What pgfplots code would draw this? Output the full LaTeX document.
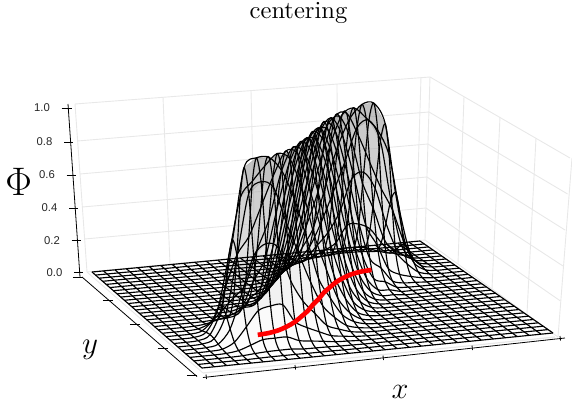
\documentclass[border=0pt]{standalone}
\usepackage{fontspec}
\usepackage{pgfplots}
\usepackage{pgfplotstable}
\pgfplotsset{compat=1.18}
\newfontfamily\tickfont{Liberation Sans}
\definecolor{gridc}{RGB}{232,232,232}
\pgfplotsset{colormap={hgt}{rgb=(1,1,1) rgb=(0.5,0.5,0.5)}}
\newcommand\seg[3]{\addplot3[#1] coordinates {(#2,0) (#3,0)};}
\tikzset{declare function={
  XI(\k)=floor(\k/30)/29;
  YI(\k)=mod(\k,30)/29;
  WW(\x,\y)=1+0.01746*\x+0.0772*\y;
  UF(\x,\y)=(360.66*\x-102.9*\y+202)/WW(\x,\y);
  VF(\x,\y)=(-29.19*\x-75*\y+368)/WW(\x,\y);
  HH(\x,\y)=183*(1-\x)*(1-\y)+178*\x*(1-\y)+166*(1-\x)*\y+162*\x*\y;
  KK(\x,\y)=-4*(1-\x)*(1-\y)+13*\x*(1-\y)-12*(1-\x)*\y+5*\x*\y;
  PU(\x,\y,\z)=UF(\x,\y)+\z*KK(\x,\y);
  PV(\x,\y,\z)=VF(\x,\y)-\z*HH(\x,\y);
}}
\pgfplotstableread[row sep=\\,header=false]{
0\\0\\0\\0\\0\\0\\0\\0\\0\\0\\
0\\0\\0\\0\\0\\0\\0\\0\\0\\0\\
0\\0\\0\\0\\0\\0\\0\\0\\0\\0\\
0\\0\\0\\0\\0\\0\\0\\0\\0\\0\\
0\\0\\0\\0\\0\\0\\0\\0\\0\\0\\
0\\0\\0\\0\\0\\0\\0\\0\\0\\0\\
0\\0\\0\\0\\.001\\.002\\.003\\.003\\.002\\.001\\
0\\0\\0\\0\\0\\0\\0\\0\\0\\0\\
0\\0\\0\\0\\0\\0\\0\\0\\0\\0\\
0\\0\\0\\.002\\.006\\.015\\.026\\.03\\.024\\.013\\
.005\\.001\\0\\0\\0\\0\\0\\0\\0\\0\\
0\\0\\0\\0\\0\\0\\0\\0\\0\\0\\
0\\0\\.002\\.011\\.038\\.093\\.155\\.18\\.144\\.08\\
.031\\.008\\.001\\0\\0\\0\\0\\0\\0\\0\\
0\\0\\0\\0\\0\\0\\0\\0\\0\\0\\
0\\.001\\.007\\.034\\.117\\.283\\.474\\.549\\.44\\.244\\
.094\\.025\\.004\\.001\\0\\0\\0\\0\\0\\0\\
0\\0\\0\\0\\0\\0\\0\\0\\0\\0\\
0\\.002\\.011\\.058\\.201\\.488\\.818\\.948\\.76\\.422\\
.162\\.043\\.008\\.001\\0\\0\\0\\0\\0\\0\\
0\\0\\0\\0\\0\\0\\0\\0\\0\\0\\
0\\.002\\.012\\.06\\.22\\.55\\.88\\.998\\.85\\.52\\
.23\\.08\\.025\\.007\\.001\\0\\0\\0\\0\\0\\
0\\0\\0\\0\\0\\0\\0\\0\\0\\0\\
0\\.002\\.012\\.06\\.22\\.52\\.84\\.995\\.93\\.68\\
.42\\.224\\.107\\.045\\.017\\.007\\.001\\0\\0\\0\\
0\\0\\0\\0\\0\\0\\0\\0\\0\\0\\
0\\.001\\.006\\.033\\.119\\.33\\.64\\.914\\.995\\.847\\.587\\.346\\.17\\.07\\.024\\.008\\.002\\0\\0\\0\\0\\0\\0\\0\\0\\0\\0\\0\\0\\0\\
0\\.001\\.005\\.024\\.08\\.21\\.46\\.75\\.96\\.985\\.847\\.62\\.39\\.21\\.098\\.04\\.013\\.004\\.001\\0\\0\\0\\0\\0\\0\\0\\0\\0\\0\\0\\
0\\.001\\.004\\.016\\.05\\.134\\.29\\.525\\.78\\.967\\.989\\.875\\.68\\.46\\.274\\.143\\.065\\.026\\.009\\.003\\.001\\0\\0\\0\\0\\0\\0\\0\\0\\0\\
0\\0\\.002\\.007\\.022\\.06\\.152\\.288\\.514\\.75\\.936\\1\\.93\\.767\\.56\\.365\\.212\\.105\\.049\\.02\\.007\\.002\\0\\0\\0\\0\\0\\0\\0\\0\\
0\\0\\.001\\.004\\.012\\.033\\.08\\.17\\.316\\.507\\.725\\.909\\.997\\.965\\.832\\.646\\.444\\.277\\.152\\.076\\.033\\.013\\.005\\.001\\0\\0\\0\\0\\0\\0\\
0\\0\\0\\.001\\.004\\.012\\.028\\.07\\.143\\.26\\.434\\.635\\.832\\.96\\.998\\.923\\.764\\.565\\.374\\.222\\.117\\.056\\.024\\.009\\.003\\.001\\0\\0\\0\\0\\
0\\0\\0\\0\\.001\\.003\\.009\\.024\\.056\\.117\\.222\\.374\\.565\\.764\\.923\\.998\\.96\\.832\\.635\\.434\\.26\\.143\\.07\\.028\\.012\\.004\\.001\\0\\0\\0\\
0\\0\\0\\0\\0\\0\\.001\\.005\\.013\\.033\\.076\\.152\\.277\\.444\\.646\\.832\\.965\\.997\\.909\\.725\\.507\\.316\\.17\\.08\\.033\\.012\\.004\\.001\\0\\0\\
0\\0\\0\\0\\0\\0\\0\\0\\.002\\.007\\.02\\.049\\.105\\.212\\.365\\.56\\.767\\.93\\1\\.936\\.75\\.514\\.288\\.152\\.06\\.022\\.007\\.002\\0\\0\\
0\\0\\0\\0\\0\\0\\0\\0\\0\\.001\\.003\\.009\\.026\\.065\\.143\\.274\\.46\\.68\\.875\\.989\\.967\\.78\\.525\\.29\\.134\\.05\\.016\\.004\\.001\\0\\
0\\0\\0\\0\\0\\0\\0\\0\\0\\0\\0\\.001\\.004\\.013\\.04\\.098\\.21\\.39\\.62\\.847\\.985\\.96\\.75\\.46\\.21\\.08\\.024\\.005\\.001\\0\\
0\\0\\0\\0\\0\\0\\0\\0\\0\\0\\0\\0\\0\\.002\\.008\\.024\\.07\\.17\\.346\\.587\\.847\\.995\\.914\\.64\\.33\\.119\\.033\\.006\\.001\\0\\
0\\0\\0\\0\\0\\0\\0\\0\\0\\0\\
0\\0\\0\\.001\\.007\\.017\\.045\\.107\\.224\\.42\\
.68\\.93\\.995\\.84\\.52\\.22\\.06\\.012\\.002\\0\\
0\\0\\0\\0\\0\\0\\0\\0\\0\\0\\
0\\0\\0\\0\\0\\.001\\.007\\.025\\.08\\.23\\
.52\\.85\\.998\\.88\\.55\\.22\\.06\\.012\\.002\\0\\
0\\0\\0\\0\\0\\0\\0\\0\\0\\0\\
0\\0\\0\\0\\0\\0\\.001\\.007\\.039\\.148\\
.386\\.696\\.868\\.749\\.447\\.184\\.053\\.01\\.002\\0\\
0\\0\\0\\0\\0\\0\\0\\0\\0\\0\\
0\\0\\0\\0\\0\\0\\0\\.004\\.02\\.077\\
.2\\.36\\.449\\.387\\.231\\.095\\.027\\.005\\.001\\0\\
0\\0\\0\\0\\0\\0\\0\\0\\0\\0\\
0\\0\\0\\0\\0\\0\\0\\0\\.006\\.022\\
.058\\.104\\.13\\.112\\.067\\.028\\.008\\.002\\0\\0\\
0\\0\\0\\0\\0\\0\\0\\0\\0\\0\\
0\\0\\0\\0\\0\\0\\0\\0\\0\\.004\\
.01\\.018\\.022\\.019\\.011\\.005\\.001\\0\\0\\0\\
0\\0\\0\\0\\0\\0\\0\\0\\0\\0\\
0\\0\\0\\0\\0\\0\\0\\0\\0\\0\\
0\\.002\\.002\\.002\\.001\\0\\0\\0\\0\\0\\
0\\0\\0\\0\\0\\0\\0\\0\\0\\0\\
0\\0\\0\\0\\0\\0\\0\\0\\0\\0\\
0\\0\\0\\0\\0\\0\\0\\0\\0\\0\\
0\\0\\0\\0\\0\\0\\0\\0\\0\\0\\
0\\0\\0\\0\\0\\0\\0\\0\\0\\0\\
0\\0\\0\\0\\0\\0\\0\\0\\0\\0\\
}\PhiData
\pgfplotstableread[row sep=\\,header=false]{
0 0 0 0 0 0 0 0 0 0 0 0 0 0 0 0 0 0 0 0 0 0 0 0 0 0 0 0 0 0\\
0 0 0 0 0 0 0 0 0 0 0 0 0 0 0 0 0 0 0 0 0 0 0 0 0 0 0 0 0 0\\
0 0 0 0 .001 .002 .003 .003 .002 .001 0 0 0 0 0 0 0 0 0 0 0 0 0 0 0 0 0 0 0 0\\
0 0 0 .002 .006 .015 .026 .03 .024 .013 .005 .001 0 0 0 0 0 0 0 0 0 0 0 0 0 0 0 0 0 0\\
0 0 .002 .011 .038 .093 .155 .18 .144 .08 .031 .008 .001 0 0 0 0 0 0 0 0 0 0 0 0 0 0 0 0 0\\
0 .001 .007 .034 .117 .283 .474 .549 .44 .244 .094 .025 .004 .001 0 0 0 0 0 0 0 0 0 0 0 0 0 0 0 0\\
0 .002 .011 .058 .201 .488 .818 .948 .76 .422 .162 .043 .008 .001 0 0 0 0 0 0 0 0 0 0 0 0 0 0 0 0\\
0 .002 .012 .06 .22 .55 .88 .998 .85 .52 .23 .08 .025 .007 .001 0 0 0 0 0 0 0 0 0 0 0 0 0 0 0\\
0 .002 .012 .06 .22 .52 .84 .995 .93 .68 .42 .224 .107 .045 .017 .007 .001 0 0 0 0 0 0 0 0 0 0 0 0 0\\
0 .001 .006 .033 .119 .33 .64 .914 .995 .847 .587 .346 .17 .07 .024 .008 .002 0 0 0 0 0 0 0 0 0 0 0 0 0\\
0 .001 .005 .024 .08 .21 .46 .75 .96 .985 .847 .62 .39 .21 .098 .04 .013 .004 .001 0 0 0 0 0 0 0 0 0 0 0\\
0 .001 .004 .016 .05 .134 .29 .525 .78 .967 .989 .875 .68 .46 .274 .143 .065 .026 .009 .003 .001 0 0 0 0 0 0 0 0 0\\
0 0 .002 .007 .022 .06 .152 .288 .514 .75 .936 1 .93 .767 .56 .365 .212 .105 .049 .02 .007 .002 0 0 0 0 0 0 0 0\\
0 0 .001 .004 .012 .033 .08 .17 .316 .507 .725 .909 .997 .965 .832 .646 .444 .277 .152 .076 .033 .013 .005 .001 0 0 0 0 0 0\\
0 0 0 .001 .004 .012 .028 .07 .143 .26 .434 .635 .832 .96 .998 .923 .764 .565 .374 .222 .117 .056 .024 .009 .003 .001 0 0 0 0\\
0 0 0 0 .001 .003 .009 .024 .056 .117 .222 .374 .565 .764 .923 .998 .96 .832 .635 .434 .26 .143 .07 .028 .012 .004 .001 0 0 0\\
0 0 0 0 0 0 .001 .005 .013 .033 .076 .152 .277 .444 .646 .832 .965 .997 .909 .725 .507 .316 .17 .08 .033 .012 .004 .001 0 0\\
0 0 0 0 0 0 0 0 .002 .007 .02 .049 .105 .212 .365 .56 .767 .93 1 .936 .75 .514 .288 .152 .06 .022 .007 .002 0 0\\
0 0 0 0 0 0 0 0 0 .001 .003 .009 .026 .065 .143 .274 .46 .68 .875 .989 .967 .78 .525 .29 .134 .05 .016 .004 .001 0\\
0 0 0 0 0 0 0 0 0 0 0 .001 .004 .013 .04 .098 .21 .39 .62 .847 .985 .96 .75 .46 .21 .08 .024 .005 .001 0\\
0 0 0 0 0 0 0 0 0 0 0 0 0 .002 .008 .024 .07 .17 .346 .587 .847 .995 .914 .64 .33 .119 .033 .006 .001 0\\
0 0 0 0 0 0 0 0 0 0 0 0 0 .001 .007 .017 .045 .107 .224 .42 .68 .93 .995 .84 .52 .22 .06 .012 .002 0\\
0 0 0 0 0 0 0 0 0 0 0 0 0 0 0 .001 .007 .025 .08 .23 .52 .85 .998 .88 .55 .22 .06 .012 .002 0\\
0 0 0 0 0 0 0 0 0 0 0 0 0 0 0 0 .001 .007 .039 .148 .386 .696 .868 .749 .447 .184 .053 .01 .002 0\\
0 0 0 0 0 0 0 0 0 0 0 0 0 0 0 0 0 .004 .02 .077 .2 .36 .449 .387 .231 .095 .027 .005 .001 0\\
0 0 0 0 0 0 0 0 0 0 0 0 0 0 0 0 0 0 .006 .022 .058 .104 .13 .112 .067 .028 .008 .002 0 0\\
0 0 0 0 0 0 0 0 0 0 0 0 0 0 0 0 0 0 0 .004 .01 .018 .022 .019 .011 .005 .001 0 0 0\\
0 0 0 0 0 0 0 0 0 0 0 0 0 0 0 0 0 0 0 0 0 .002 .002 .002 .001 0 0 0 0 0\\
0 0 0 0 0 0 0 0 0 0 0 0 0 0 0 0 0 0 0 0 0 0 0 0 0 0 0 0 0 0\\
0 0 0 0 0 0 0 0 0 0 0 0 0 0 0 0 0 0 0 0 0 0 0 0 0 0 0 0 0 0\\
}\PhiM
\pgfplotstabletranspose\PhiT{\PhiM}
\pgfplotstableread[row sep=\\]{
x y\\
.241 .245\\.276 .252\\.310 .269\\.345 .297\\.379 .331\\.414 .376\\.448 .421\\.483 .476\\
.517 .524\\.552 .579\\.586 .624\\.621 .669\\.655 .703\\.690 .731\\.724 .748\\.759 .755\\
}\RedPath
% line of constant y index #1 (a column of the matrix)
\newcommand\jline[1]{\addplot3[black, line width=1.15pt, smooth]
 table[x index=0, y index=0, z index=0,
  x expr={PU(\coordindex/29,#1/29,\thisrowno{#1})},
  y expr={PV(\coordindex/29,#1/29,\thisrowno{#1})},
  z expr={\thisrowno{#1}}] {\PhiM};}
% line of constant x index #1 (column #2 of the transposed matrix)
\newcommand\iline[2]{\addplot3[black, line width=1.15pt, smooth]
 table[x index=0, y index=0, z index=0,
  x expr={PU(#1/29,\coordindex/29,\thisrowno{#2})},
  y expr={PV(#1/29,\coordindex/29,\thisrowno{#2})},
  z expr={\thisrowno{#2}}] {\PhiT};}
\begin{document}
\begin{tikzpicture}
\useasboundingbox (0,0) rectangle (572pt,409pt);
\begin{axis}[
 view={0}{90}, width=572pt, height=409pt, scale only axis,
 xmin=0, xmax=572, ymin=0, ymax=409, zmin=-1, zmax=2, y dir=reverse,
 hide axis, clip=true, point meta min=0, point meta max=1,
 every axis plot/.append style={line join=round},
]
% walls
\pgfplotsset{wl/.style={gridc,line width=0.9pt}}
\seg{wl}{87,272}{425,240}
\seg{wl}{84.6,239}{426,208}
\seg{wl}{82.2,207}{427,177}
\seg{wl}{79.8,174}{428,144}
\seg{wl}{77.4,141}{429,112}
\seg{wl}{75,104}{430,77}
\seg{wl}{87,272}{75,104}
\seg{wl}{170,264}{163,97}
\seg{wl}{255,256}{251,90.5}
\seg{wl}{338,248}{337,84}
\seg{wl}{416,241}{421,77}
\seg{wl}{425,240}{430,77}
\seg{wl}{425,240}{558,337}
\seg{wl}{426,208}{560.5,301}
\seg{wl}{427,177}{563,266}
\seg{wl}{428,144}{565,230}
\seg{wl}{429,112}{567.6,194}
\seg{wl}{430,77}{570,158}
\seg{wl}{458,264}{464,97}
\seg{wl}{492,289}{500,117}
\seg{wl}{527,314}{536,138}
\seg{wl}{558,337}{572,158}
\seg{wl}{87,272}{203,373}
\seg{gridc,line width=1.2pt}{203,373}{555,337}
% filled surface
\addplot3[surf, shader=flat, colormap name=hgt, opacity=0.3, mesh/rows=30, mesh/cols=30]
 table[x index=0, y index=0, z index=0,
       x expr={PU(XI(\coordindex),YI(\coordindex),\thisrowno{0})},
       y expr={PV(XI(\coordindex),YI(\coordindex),\thisrowno{0})},
       z expr={\thisrowno{0}}] {\PhiData};
% mesh lines, each line of the grid on its own
\pgfplotsinvokeforeach{0,...,29}{\jline{#1}}
\iline{0}{1}\iline{1}{2}\iline{2}{3}\iline{3}{4}\iline{4}{5}\iline{5}{6}
\iline{6}{7}\iline{7}{8}\iline{8}{9}\iline{9}{10}\iline{10}{11}\iline{11}{12}
\iline{12}{13}\iline{13}{14}\iline{14}{15}\iline{15}{16}\iline{16}{17}\iline{17}{18}
\iline{18}{19}\iline{19}{20}\iline{20}{21}\iline{21}{22}\iline{22}{23}\iline{23}{24}
\iline{24}{25}\iline{25}{26}\iline{26}{27}\iline{27}{28}\iline{28}{29}\iline{29}{30}
% path on the floor
\addplot3[red, line width=4.6pt, smooth]
 table[x index=0, y index=1, z index=1, x expr={UF(\thisrow{x},\thisrow{y})}, y expr={VF(\thisrow{x},\thisrow{y})}, z expr=0] {\RedPath};
% axes
\pgfplotsset{ax/.style={black,line width=0.8pt}}
\seg{ax}{68,104}{80,277}
\seg{ax}{82,277}{197,376.5}
\seg{ax}{203,377.5}{565,338}
\seg{ax}{61.7,108.3}{71.7,108.3}
\seg{ax}{64.3,142}{73.3,142}
\seg{ax}{66.7,175.5}{76,175.5}
\seg{ax}{69.3,208}{78.3,208}
\seg{ax}{71.7,240}{81,240}
\seg{ax}{74,272}{82.7,272}
\seg{ax}{73,277}{83,277}
\seg{ax}{103,300}{113,300}
\seg{ax}{130,324}{140,324}
\seg{ax}{158,348}{168,348}
\seg{ax}{187,375}{197,375}
\seg{ax}{206,374.5}{206.5,379}
\seg{ax}{295,365}{295.5,369.5}
\seg{ax}{383,355.5}{383.5,360}
\seg{ax}{472,345.5}{472.5,350}
\seg{ax}{560,336}{560.5,340.5}
% text
\node[anchor=east,inner sep=0pt,text=black!85] at (axis cs:50,108,0) {\tickfont\fontsize{11.3}{12}\selectfont 1.0};
\node[anchor=east,inner sep=0pt,text=black!85] at (axis cs:52.5,142,0) {\tickfont\fontsize{11.3}{12}\selectfont 0.8};
\node[anchor=east,inner sep=0pt,text=black!85] at (axis cs:55,175,0) {\tickfont\fontsize{11.3}{12}\selectfont 0.6};
\node[anchor=east,inner sep=0pt,text=black!85] at (axis cs:57.5,208,0) {\tickfont\fontsize{11.3}{12}\selectfont 0.4};
\node[anchor=east,inner sep=0pt,text=black!85] at (axis cs:60,241,0) {\tickfont\fontsize{11.3}{12}\selectfont 0.2};
\node[anchor=east,inner sep=0pt,text=black!85] at (axis cs:62.5,273,0) {\tickfont\fontsize{11.3}{12}\selectfont 0.0};
\node[inner sep=0pt,anchor=base,scale=2.455] at (axis cs:298.5,19,0) {centering};
\node[inner sep=0pt,scale=1.22] at (axis cs:400,392,0) {\Huge $x$};
\node[inner sep=0pt,scale=1.25] at (axis cs:90,350,0) {\Huge $y$};
\node[inner sep=0pt,scale=1.6] at (axis cs:18.7,181.7,0) {\Huge $\Phi$};
\end{axis}
\end{tikzpicture}
\end{document}
